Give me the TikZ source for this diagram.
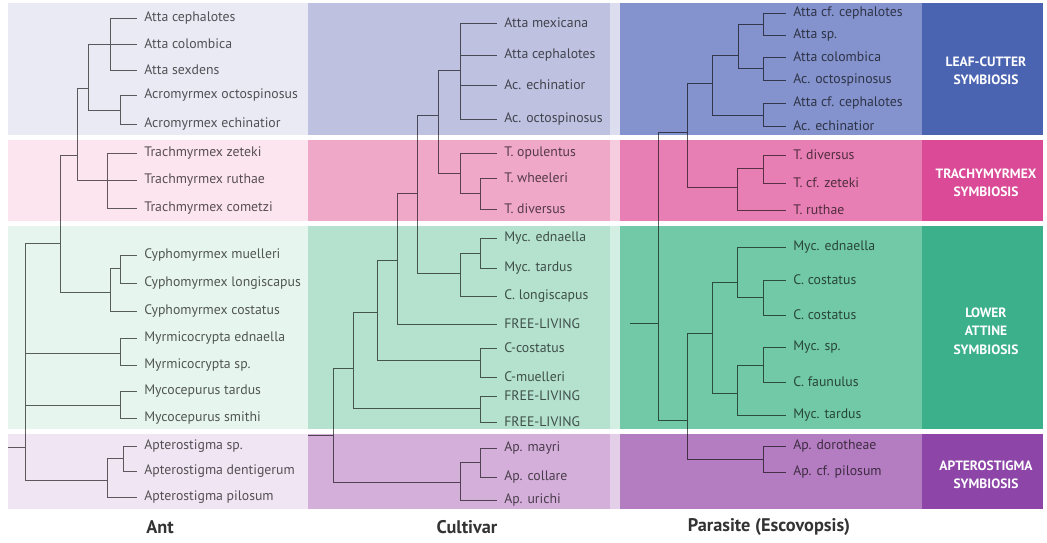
\documentclass[tikz,border=0pt]{standalone}
\usepackage{fontspec}
\setmainfont{PT Sans}
\usetikzlibrary{positioning}

% band colours: A ant, C cultivar, G gap, P parasite, L label
\definecolor{leafA}{HTML}{E9EAF4}
\definecolor{leafC}{HTML}{BEC1E0}
\definecolor{leafG}{HTML}{DCDEEF}
\definecolor{leafP}{HTML}{8493CD}
\definecolor{leafL}{HTML}{4B64B2}
\definecolor{trA}{HTML}{FCE5EF}
\definecolor{trC}{HTML}{F0A8C9}
\definecolor{trG}{HTML}{F6CCDF}
\definecolor{trP}{HTML}{E87FB4}
\definecolor{trL}{HTML}{DA4A97}
\definecolor{loA}{HTML}{E7F5EF}
\definecolor{loC}{HTML}{B4E2CF}
\definecolor{loG}{HTML}{D3EEE3}
\definecolor{loP}{HTML}{72C9A7}
\definecolor{loL}{HTML}{3CB08B}
\definecolor{apA}{HTML}{F0E5F2}
\definecolor{apC}{HTML}{D4AFDA}
\definecolor{apG}{HTML}{E4CFE8}
\definecolor{apP}{HTML}{B47DC1}
\definecolor{apL}{HTML}{8D45A8}

\begin{document}
\begin{tikzpicture}[
        x=0.025cm, y=-0.025cm,
        leaf/.style={anchor=west, inner xsep=5pt, inner ysep=1pt, font=\fontsize{9.8}{11}\selectfont, text=black, text opacity=0.65},
        tree/.style={draw=black, draw opacity=0.62, line width=0.65pt},
        sym/.style={align=center, text=white, font=\fontsize{9.6}{13}\selectfont\bfseries},
        coltitle/.style={font=\fontsize{13}{15}\selectfont\bfseries, text=black!80}
    ]
        \useasboundingbox (0,0) rectangle (1047,542);

        % coloured bands
        \foreach \bnd/\t/\u in {leaf/3/135, tr/140/221, lo/226/429, ap/434/509} {
            \fill[fill=\bnd A] (8,\t) rectangle (308,\u);
            \fill[fill=\bnd C] (308,\t) rectangle (610,\u);
            \fill[fill=\bnd G] (610,\t) rectangle (620,\u);
            \fill[fill=\bnd P] (620,\t) rectangle (922,\u);
            \fill[fill=\bnd L] (922,\t) rectangle (1043,\u);
        }

        % Ant tree
        \node[leaf] (a1) at (137,18) {Atta cephalotes};
        \node[leaf] (a2) at (137,44) {Atta colombica};
        \node[leaf] (a3) at (137,70) {Atta sexdens};
        \node[leaf] (a4) at (137,95) {Acromyrmex octospinosus};
        \node[leaf] (a5) at (137,124) {Acromyrmex echinatior};
        \node[leaf] (a6) at (137,153) {Trachmyrmex zeteki};
        \node[leaf] (a7) at (137,180) {Trachmyrmex ruthae};
        \node[leaf] (a8) at (137,208) {Trachmyrmex cometzi};
        \node[leaf] (a9) at (137,255) {Cyphomyrmex muelleri};
        \node[leaf] (a10) at (137,283) {Cyphomyrmex longiscapus};
        \node[leaf] (a11) at (137,311) {Cyphomyrmex costatus};
        \node[leaf] (a12) at (137,338) {Myrmicocrypta ednaella};
        \node[leaf] (a13) at (137,365) {Myrmicocrypta sp.};
        \node[leaf] (a14) at (137,391) {Mycocepurus tardus};
        \node[leaf] (a15) at (137,418) {Mycocepurus smithi};
        \node[leaf] (a16) at (137,446) {Apterostigma sp.};
        \node[leaf] (a17) at (137,471) {Apterostigma dentigerum};
        \node[leaf] (a18) at (137,497) {Apterostigma pilosum};

        \coordinate (atta) at (110,44);
        \coordinate (acro) at (120,110);
        \coordinate (leafcut) at (88,88);
        \coordinate (trachy) at (107,180);
        \coordinate (higher) at (77,155);
        \coordinate (cyph1) at (120,268);
        \coordinate (cyph) at (110,292);
        \coordinate (upper) at (60,243);
        \coordinate (myrm) at (120,353);
        \coordinate (myco) at (120,405);
        \coordinate (apt2) at (123,458);
        \coordinate (apt) at (107,480);
        \coordinate (antnode) at (25,447);
        \coordinate (antroot) at (8,447);

        \draw[tree] (atta) |- (a1.west) (atta) |- (a2.west) (atta) |- (a3.west)
            (acro) |- (a4.west) (acro) |- (a5.west)
            (leafcut) |- (atta) (leafcut) |- (acro)
            (trachy) |- (a6.west) (trachy) |- (a7.west) (trachy) |- (a8.west)
            (higher) |- (leafcut) (higher) |- (trachy)
            (cyph1) |- (a9.west) (cyph1) |- (a10.west)
            (cyph) |- (cyph1) (cyph) |- (a11.west)
            (upper) |- (higher) (upper) |- (cyph)
            (myrm) |- (a12.west) (myrm) |- (a13.west)
            (myco) |- (a14.west) (myco) |- (a15.west)
            (apt2) |- (a16.west) (apt2) |- (a17.west)
            (apt) |- (apt2) (apt) |- (a18.west)
            (antnode) |- (upper) (antnode) |- (myrm) (antnode) |- (myco) (antnode) |- (apt)
            (antroot) -- (antnode);

        % Cultivar tree
        \node[leaf] (c1) at (497,23) {Atta mexicana};
        \node[leaf] (c2) at (497,55) {Atta cephalotes};
        \node[leaf] (c3) at (497,85) {Ac. echinatior};
        \node[leaf] (c4) at (497,119) {Ac. octospinosus};
        \node[leaf] (c5) at (497,153) {T. opulentus};
        \node[leaf] (c6) at (497,178) {T. wheeleri};
        \node[leaf] (c7) at (497,209) {T. diversus};
        \node[leaf] (c8) at (497,238) {Myc. ednaella};
        \node[leaf] (c9) at (497,268) {Myc. tardus};
        \node[leaf] (c10) at (497,296) {C. longiscapus};
        \node[leaf] (c11) at (497,324) {FREE-LIVING};
        \node[leaf] (c12) at (497,348) {C-costatus};
        \node[leaf] (c13) at (497,377) {C-muelleri};
        \node[leaf] (c14) at (497,396) {FREE-LIVING};
        \node[leaf] (c15) at (497,422) {FREE-LIVING};
        \node[leaf] (c16) at (497,448) {Ap. mayri};
        \node[leaf] (c17) at (497,477) {Ap. collare};
        \node[leaf] (c18) at (497,500) {Ap. urichi};

        \coordinate (culeaf) at (460,70);
        \coordinate (cutr2) at (480,193);
        \coordinate (cutr) at (460,173);
        \coordinate (cuk1) at (438,115);
        \coordinate (cumy2) at (480,253);
        \coordinate (cumy) at (460,273);
        \coordinate (cuk2) at (417,193);
        \coordinate (cuk3) at (397,260);
        \coordinate (cucc) at (480,360);
        \coordinate (cuk4) at (377,312);
        \coordinate (cufl) at (480,408);
        \coordinate (cuk5) at (353,368);
        \coordinate (cuap2) at (480,462);
        \coordinate (cuap) at (460,482);
        \coordinate (cunode) at (333,435);
        \coordinate (curoot) at (308,435);

        \draw[tree] (culeaf) |- (c1.west) (culeaf) |- (c2.west) (culeaf) |- (c3.west) (culeaf) |- (c4.west)
            (cutr2) |- (c6.west) (cutr2) |- (c7.west)
            (cutr) |- (c5.west) (cutr) |- (cutr2)
            (cuk1) |- (culeaf) (cuk1) |- (cutr)
            (cumy2) |- (c8.west) (cumy2) |- (c9.west)
            (cumy) |- (cumy2) (cumy) |- (c10.west)
            (cuk2) |- (cuk1) (cuk2) |- (cumy)
            (cuk3) |- (cuk2) (cuk3) |- (c11.west)
            (cucc) |- (c12.west) (cucc) |- (c13.west)
            (cuk4) |- (cuk3) (cuk4) |- (cucc)
            (cufl) |- (c14.west) (cufl) |- (c15.west)
            (cuk5) |- (cuk4) (cuk5) |- (cufl)
            (cuap2) |- (c16.west) (cuap2) |- (c17.west)
            (cuap) |- (cuap2) (cuap) |- (c18.west)
            (cunode) |- (cuk5) (cunode) |- (cuap)
            (curoot) -- (cunode);

        % Parasite tree
        \node[leaf] (p1) at (786,13) {Atta cf. cephalotes};
        \node[leaf] (p2) at (786,35) {Atta sp.};
        \node[leaf] (p3) at (786,57) {Atta colombica};
        \node[leaf] (p4) at (786,80) {Ac. octospinosus};
        \node[leaf] (p5) at (786,103) {Atta cf. cephalotes};
        \node[leaf] (p6) at (786,126) {Ac. echinatior};
        \node[leaf] (p7) at (786,155) {T. diversus};
        \node[leaf] (p8) at (786,183) {T. cf. zeteki};
        \node[leaf] (p9) at (786,210) {T. ruthae};
        \node[leaf] (p10) at (786,247) {Myc. ednaella};
        \node[leaf] (p11) at (786,280) {C. costatus};
        \node[leaf] (p12) at (786,315) {C. costatus};
        \node[leaf] (p13) at (786,347) {Myc. sp.};
        \node[leaf] (p14) at (786,382) {C. faunulus};
        \node[leaf] (p15) at (786,415) {Myc. tardus};
        \node[leaf] (p16) at (786,446) {Ap. dorotheae};
        \node[leaf] (p17) at (786,472) {Ap. cf. pilosum};

        \coordinate (pa1) at (763,24);
        \coordinate (pa2) at (763,68);
        \coordinate (pa3) at (738,55);
        \coordinate (pa4) at (763,115);
        \coordinate (pa5) at (712,83);
        \coordinate (patr2) at (763,168);
        \coordinate (patr) at (737,187);
        \coordinate (pa6) at (687,132);
        \coordinate (palo1) at (763,297);
        \coordinate (palo2) at (737,282);
        \coordinate (palo3) at (763,365);
        \coordinate (palo4) at (737,393);
        \coordinate (palo5) at (712,333);
        \coordinate (paap) at (763,459);
        \coordinate (pa7) at (687,420);
        \coordinate (panode) at (658,323);
        \coordinate (paroot) at (630,323);

        \draw[tree] (pa1) |- (p1.west) (pa1) |- (p2.west)
            (pa2) |- (p3.west) (pa2) |- (p4.west)
            (pa3) |- (pa1) (pa3) |- (pa2)
            (pa4) |- (p5.west) (pa4) |- (p6.west)
            (pa5) |- (pa3) (pa5) |- (pa4)
            (patr2) |- (p7.west) (patr2) |- (p8.west)
            (patr) |- (patr2) (patr) |- (p9.west)
            (pa6) |- (pa5) (pa6) |- (patr)
            (palo1) |- (p11.west) (palo1) |- (p12.west)
            (palo2) |- (p10.west) (palo2) |- (palo1)
            (palo3) |- (p13.west) (palo3) |- (p14.west)
            (palo4) |- (palo3) (palo4) |- (p15.west)
            (palo5) |- (palo2) (palo5) |- (palo4)
            (paap) |- (p16.west) (paap) |- (p17.west)
            (pa7) |- (palo5) (pa7) |- (paap)
            (panode) |- (pa6) (panode) |- (pa7)
            (paroot) -- (panode);

        % symbiosis labels
        \node[sym] (s1) at (986,71) {LEAF-CUTTER\\SYMBIOSIS};
        \node[sym] (s2) at (986,183) {TRACHYMYRMEX\\SYMBIOSIS};
        \node[sym] (s3) at (986,331) {LOWER\\ATTINE\\SYMBIOSIS};
        \node[sym] (s4) at (986,475) {APTEROSTIGMA\\SYMBIOSIS};

        % column titles
        \node[coltitle] (tant) at (160,527) {Ant};
        \node[coltitle] (tcult) at (467,527) {Cultivar};
        \node[coltitle] (tpara) at (769,527) {Parasite (Escovopsis)};
    \end{tikzpicture}
\end{document}
